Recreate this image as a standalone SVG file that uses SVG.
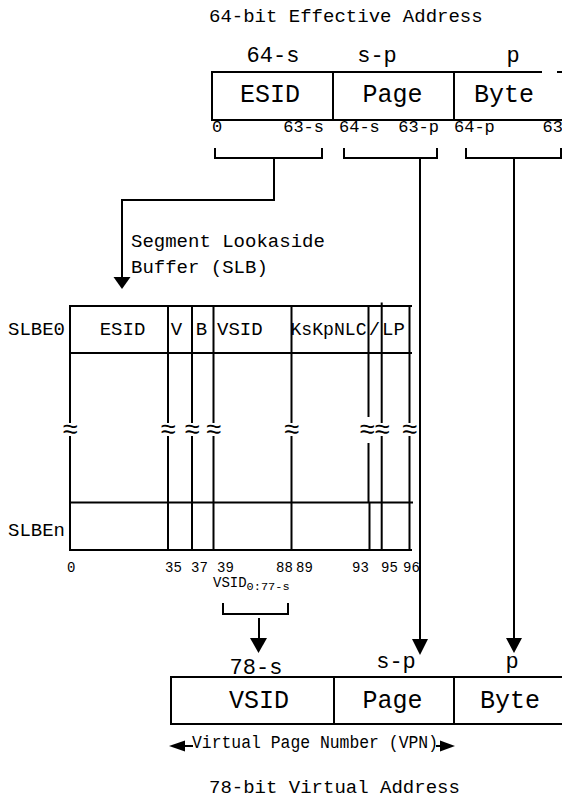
<svg xmlns="http://www.w3.org/2000/svg" width="562" height="799" viewBox="0 0 562 799">
<style>
text{font-family:"Liberation Mono","Courier New",monospace;fill:#000}
.ln{stroke:#000;stroke-width:2;fill:none}
.t19{font-size:19px}
.t22{font-size:22px}
.t25{font-size:25px}
.t17{font-size:17px}
.t14{font-size:14px}
.m{text-anchor:middle}
.e{text-anchor:end}
.ah{fill:#000;stroke:none}
.ap{font-family:"DejaVu Sans Mono",monospace;font-size:27px;text-anchor:middle}
</style>
<rect width="562" height="799" fill="#fff"/>

<g id="effective-address">
  <text class="t19" x="209" y="21.5">64-bit Effective Address</text>
  <text class="t22 m" x="273" y="62">64-s</text>
  <text class="t22 m" x="377" y="62">s-p</text>
  <text class="t22 m" x="513" y="62">p</text>
  <path class="ln" d="M212,72 H542 M557,72 H562 M212,120 H562 M212,71 V121 M333,72 V120 M454,72 V120"/>
  <text class="t25 m" x="270" y="102">ESID</text>
  <text class="t25 m" x="392.5" y="102">Page</text>
  <text class="t25 m" x="504" y="102">Byte</text>
  <text class="t17" x="212" y="132">0</text>
  <text class="t17 e" x="324" y="132">63-s</text>
  <text class="t17" x="339" y="132">64-s</text>
  <text class="t17 e" x="439" y="132">63-p</text>
  <text class="t17" x="454" y="132">64-p</text>
  <text class="t17 e" x="563" y="132">63</text>
</g>

<g id="slb-label">
  <text class="t19" x="131" y="247">Segment Lookaside</text>
  <text class="t19" x="131" y="273">Buffer (SLB)</text>
</g>

<g id="slb">
  <text class="t19" x="8" y="335">SLBE0</text>
  <text class="t19" x="8" y="536">SLBEn</text>
  <path class="ln" d="M69,306 H412 M70,353 H412 M70,502.5 H413 M69,550 H412"/>
  <path class="ln" d="M70,306 V423 M70,436 V550 M168,306 V423 M168,436 V550 M192,306 V423 M192,436 V550 M213.5,306 V423 M213.5,436 V550 M291.5,306 V423 M291.5,436 V550 M368.5,305 V417 M368.5,443 V503 M369.5,503 V550 M381.7,302.5 V423 M381.7,436 V550 M409.5,306 V423 M409.5,436 V550"/>
  <text class="t19 m" x="122.5" y="335">ESID</text>
  <text class="t19 m" x="176.5" y="335">V</text>
  <text class="t19 m" x="201.5" y="335">B</text>
  <text class="t19" x="217" y="335">VSID</text>
  <text class="t19" x="290.5" y="335" textLength="76" lengthAdjust="spacingAndGlyphs">KsKpNLC</text>
  <text class="t19 m" x="374.5" y="335">/</text>
  <text class="t19" x="382" y="335">LP</text>
  <g class="ap">
    <text x="70" y="438">≈</text>
    <text x="168" y="438">≈</text>
    <text x="192" y="438">≈</text>
    <text x="213.5" y="438">≈</text>
    <text x="291.5" y="438">≈</text>
    <text x="367" y="438">≈</text>
    <text x="382" y="438">≈</text>
    <text x="409.5" y="438">≈</text>
  </g>
  <g class="t14">
    <text x="67" y="572">0</text>
    <text x="165" y="572">35</text>
    <text x="191" y="572">37</text>
    <text x="217" y="572">39</text>
    <text x="276" y="572">88</text>
    <text x="296" y="572">89</text>
    <text x="352" y="572">93</text>
    <text x="381" y="572">95</text>
    <text x="403" y="572">96</text>
  </g>
  <text x="213" y="587" font-size="14">VSID<tspan font-size="11" dy="3" textLength="43" lengthAdjust="spacingAndGlyphs">0:77-s</tspan></text>
</g>

<g id="virtual-address">
  <text class="t22 m" x="256" y="674">78-s</text>
  <text class="t22 m" x="396" y="668">s-p</text>
  <text class="t22 m" x="512" y="668">p</text>
  <path class="ln" d="M170,677 H562 M170,724 H562 M171,677 V724 M334,677 V724 M454,677 V724"/>
  <text class="t25 m" x="259" y="708">VSID</text>
  <text class="t25 m" x="392.5" y="708">Page</text>
  <text class="t25 m" x="510" y="708">Byte</text>
  <text class="t19" x="192" y="748" textLength="246" lengthAdjust="spacingAndGlyphs">Virtual Page Number (VPN)</text>
  <text class="t19" x="209" y="793">78-bit Virtual Address</text>
</g>

<g id="connectors">
  <path class="ln" d="M215,148 V158 H322 V148 M274,158 V200 H122 V278"/>
  <polygon class="ah" points="113.5,277 130.5,277 122,289"/>
  <path class="ln" d="M344,148 V158 H437 V148 M420,158 V640"/>
  <polygon class="ah" points="412,639 428,639 420,655"/>
  <path class="ln" d="M466,148 V158 H561 V148 M514,158 V639"/>
  <polygon class="ah" points="506,638 522,638 514,653"/>
  <path class="ln" d="M223,603 V614 H288 V603 M259,618 V639"/>
  <polygon class="ah" points="250,638 267,638 258.5,653"/>
  <path class="ln" d="M184,746 H193 M436,746 H441"/>
  <polygon class="ah" points="169,746 185,740.5 185,751.5"/>
  <polygon class="ah" points="455,746 440,740.5 440,751.5"/>
</g>
</svg>
